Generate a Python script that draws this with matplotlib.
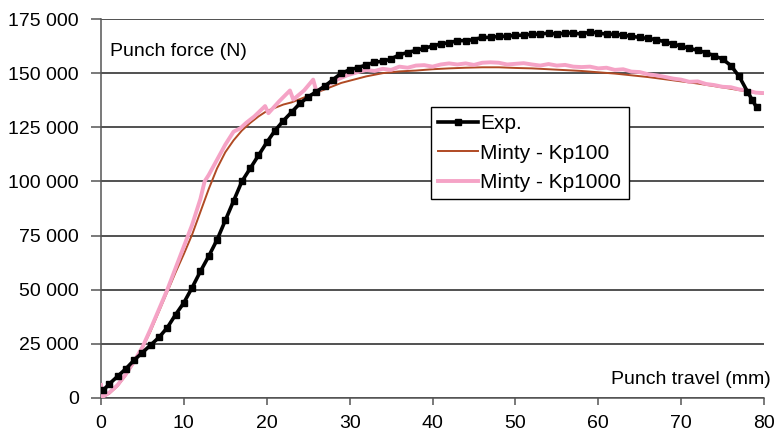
import matplotlib
matplotlib.use("Agg")
import matplotlib.pyplot as plt
from matplotlib.ticker import FixedLocator, FixedFormatter

plt.rcParams['font.family'] = ['Liberation Sans', 'DejaVu Sans']

# ---------------- data (forces in kN, converted to N below) ----------------
exp_x = [0.3, 1, 2, 3, 4, 5, 6, 7, 8, 9, 10, 11, 12, 13, 14, 15, 16, 17, 18, 19,
         20, 21, 22, 23, 24, 25, 26, 27, 28, 29, 30, 31, 32, 33, 34, 35, 36, 37, 38, 39,
         40, 41, 42, 43, 44, 45, 46, 47, 48, 49, 50, 51, 52, 53, 54, 55, 56, 57, 58, 59,
         60, 61, 62, 63, 64, 65, 66, 67, 68, 69, 70, 71, 72, 73, 74, 75, 76, 77, 78, 78.6, 79.1]
exp_kN = [3.7, 6.5, 10, 13.5, 17.5, 21, 24.5, 28, 32.5, 38.5, 44, 51, 58.5, 65.5, 73, 82, 91, 100, 106, 112,
          118, 123.5, 128, 132, 136, 139, 141.5, 144, 147, 150, 151.5, 152.5, 153.8, 155, 155.5, 156.5, 158.5, 159.5, 160.5, 161.5,
          162.5, 163.5, 164, 165, 165, 165.5, 166.5, 166.5, 167, 167, 167.5, 167.5, 168, 168, 168.5, 168, 168.5, 168.5, 168, 169,
          168.5, 168, 168, 167.5, 167, 166.5, 166, 165.5, 164.5, 163.5, 162.5, 161.5, 160.5, 159.5, 158, 156.5, 153.5, 148.5, 141.5, 137.5, 134.2]

kp100_x = [0, 1, 2, 3, 4, 5, 6, 7, 8, 9, 10, 11, 12, 13, 14, 15, 16, 17, 18, 19,
           20, 21, 22, 23, 24, 25, 26, 27, 28, 29, 30, 32, 34, 36, 38, 40, 42, 44, 46, 48,
           50, 52, 54, 56, 58, 60, 62, 64, 66, 68, 70, 72, 74, 76, 78, 80]
kp100_kN = [0, 2, 5.5, 10.5, 16.5, 23, 31, 40, 49, 58, 66.5, 75.5, 86, 96.5, 106, 113.5, 119, 123.5, 127, 130,
            132.5, 134, 135.5, 136.5, 138, 139.5, 141, 142.5, 144, 145.5, 146.5, 148.5, 150, 150.8, 151.2, 151.8, 152.2, 152.5, 152.7, 152.7,
            152.4, 152.2, 151.8, 151.4, 151, 150.4, 149.8, 149, 148.2, 147.2, 146.2, 145.2, 144, 142.8, 141.5, 140.4]

kp1000_x = [0, 0.2, 1, 2, 3, 4, 5, 6, 7, 8, 9, 10, 11, 12, 12.5, 13, 14, 15, 16, 16.8,
            17.5, 18.5, 19.8, 20.2, 21.5, 22.8, 23.2, 24.5, 25.6, 26, 27.3, 28.5, 29.7, 31, 32, 33, 34, 35, 36, 37,
            38, 39, 40, 41, 42, 43, 44, 45, 46, 47, 48, 49, 50, 51, 52, 53, 54, 55, 56, 57,
            58, 59, 60, 61, 62, 63, 64, 65, 66, 67, 68, 69, 70, 71, 72, 73, 74, 75, 76, 77,
            78, 79, 80]
kp1000_kN = [6, 0.5, 2.5, 6, 11, 17, 23.5, 32, 41, 50, 60, 70, 80, 92, 100, 103, 110, 117, 123, 124.5,
             127, 130, 134.8, 131.5, 137, 142, 137.8, 142, 147, 141.5, 144.5, 147, 149, 150.5, 151.5, 151, 152, 151.5, 153, 152.5,
             153.5, 153.7, 153, 154, 154.5, 154, 154.5, 153.8, 154.8, 155, 154.8, 154, 154.3, 154.6, 154, 153.5, 154.2, 153.5, 153.8, 153,
             152.8, 153, 152.2, 152.5, 151.5, 151.8, 150.7, 150.5, 149.5, 149, 148.3, 147.5, 147, 146, 146.2, 145, 144.5, 143.7, 143.5, 142.5,
             142, 141, 140.8]

series_labels = ["Exp.", "Minty - Kp100", "Minty - Kp1000"]
x_ticks = [0, 10, 20, 30, 40, 50, 60, 70, 80]
y_ticks = [0, 25000, 50000, 75000, 100000, 125000, 150000, 175000]
y_tick_labels = ["0", "25 000", "50 000", "75 000", "100 000", "125 000", "150 000", "175 000"]
y_title = "Punch force (N)"
x_title = "Punch travel (mm)"

# ---------------- figure ----------------
fig = plt.figure(figsize=(7.75, 4.42), dpi=100)
ax = fig.add_axes([101 / 775, 44 / 442, 663 / 775, 379 / 442])

to_N = lambda v: [k * 1000 for k in v]

ax.plot(kp100_x, to_N(kp100_kN), color="#b04a24", lw=1.4, zorder=3, label=series_labels[1])
ax.plot(kp1000_x, to_N(kp1000_kN), color="#f5a3c6", lw=2.8, zorder=3.5, label=series_labels[2])
ax.plot(exp_x, to_N(exp_kN), color="black", lw=2.6, marker="s", ms=5.0, zorder=4, label=series_labels[0])

ax.set_xlim(0, 80)
ax.set_ylim(0, 175000)
ax.xaxis.set_major_locator(FixedLocator(x_ticks))
ax.yaxis.set_major_locator(FixedLocator(y_ticks))
ax.yaxis.set_major_formatter(FixedFormatter(y_tick_labels))

ax.grid(axis="y", color="#222222", lw=1.1, zorder=1)
ax.set_axisbelow(True)
for s in ["top", "right"]:
    ax.spines[s].set_visible(False)
for s in ["left", "bottom"]:
    ax.spines[s].set_color("#555555")
    ax.spines[s].set_linewidth(1.1)

ax.tick_params(axis="both", labelsize=14, colors="#555555", labelcolor="black")
ax.tick_params(axis="y", length=7, width=1.1, pad=9)
ax.tick_params(axis="x", length=5, width=1.1, pad=7)

fig.text(110 / 775, 1 - 51 / 442, y_title, fontsize=14, ha="left", va="center")
fig.text(771 / 775, 1 - 380 / 442, x_title, fontsize=14, ha="right", va="center")

handles, labels = ax.get_legend_handles_labels()
order = [2, 0, 1]
leg = fig.legend([handles[i] for i in order], [labels[i] for i in order],
                 loc="upper left", bbox_to_anchor=(431 / 775, 1 - 107 / 442),
                 fontsize=15, frameon=True, fancybox=False, edgecolor="black",
                 handlelength=1.9, handletextpad=0.12, labelspacing=0.5,
                 borderpad=0.35, borderaxespad=0, markerscale=0.8)
leg.get_frame().set_linewidth(1.0)
leg.get_frame().set_alpha(1)

fig.savefig("out.png", dpi=100)
